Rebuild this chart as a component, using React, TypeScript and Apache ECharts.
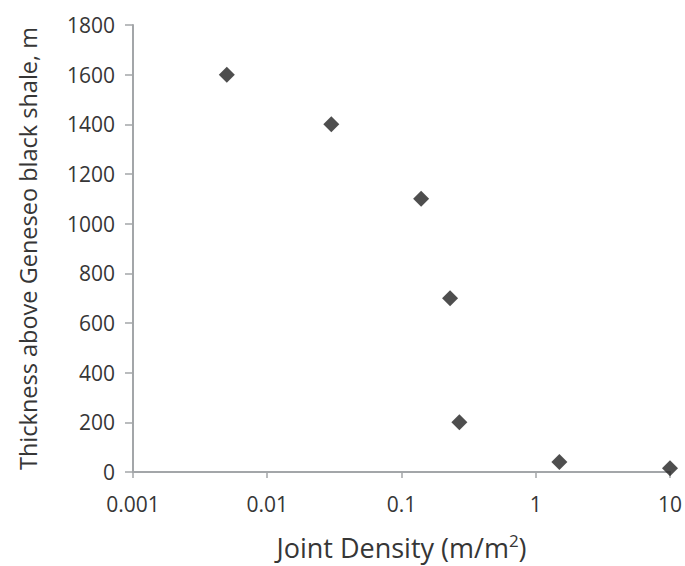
import React, { useEffect, useRef } from "react";
import * as echarts from "echarts";

const jointDensity = [0.005, 0.03, 0.14, 0.23, 0.27, 1.5, 10];
const thickness = [1600, 1400, 1100, 700, 200, 40, 15];
const xTicks = [0.001, 0.01, 0.1, 1, 10];
const xTitle = "Joint Density (m/m{sup|2})";
const yTitle = "Thickness above Geneseo black shale, m";

export default function App() {
  const ref = useRef<HTMLDivElement>(null);
  useEffect(() => {
    if (!ref.current) return;
    const chart = echarts.init(ref.current, null, { renderer: "svg" });
    const font = "'Open Sans', sans-serif";
    const axisColor = "#a3a6a9";
    const textColor = "#363636";
    chart.setOption({
      animation: false,
      backgroundColor: "#ffffff",
      grid: { left: 133, right: 15, top: 25, bottom: 94, containLabel: false },
      xAxis: {
        type: "log",
        logBase: 10,
        min: xTicks[0],
        max: xTicks[xTicks.length - 1],
        name: xTitle,
        nameLocation: "middle",
        nameGap: 60,
        nameTextStyle: {
          fontFamily: font,
          fontSize: 27,
          color: textColor,
          rich: { sup: { fontFamily: font, fontSize: 17, color: textColor, verticalAlign: "top", padding: [0, 0, 13, 0] } },
        },
        axisLine: { lineStyle: { color: axisColor, width: 2 } },
        axisTick: { show: true, length: 6, lineStyle: { color: axisColor, width: 1.5 } },
        minorTick: { show: false },
        splitLine: { show: false },
        axisLabel: {
          fontFamily: font,
          fontSize: 21,
          color: textColor,
          margin: 21,
          alignMaxLabel: "center",
          formatter: (v: number) => String(Number(v.toPrecision(1))),
        },
      },
      yAxis: {
        type: "value",
        min: 0,
        max: 1800,
        interval: 200,
        name: yTitle,
        nameLocation: "middle",
        nameGap: 93,
        nameTextStyle: { fontFamily: font, fontSize: 23.5, color: textColor },
        axisLine: { show: true, lineStyle: { color: axisColor, width: 2 } },
        axisTick: { show: true, length: 8, lineStyle: { color: axisColor, width: 1.5 } },
        splitLine: { show: false },
        axisLabel: {
          fontFamily: font,
          fontSize: 21,
          color: textColor,
          margin: 18,
          formatter: (v: number) => String(v),
        },
      },
      series: [
        {
          type: "scatter",
          data: jointDensity.map((x, i) => [x, thickness[i]]),
          symbol: "diamond",
          symbolSize: 16,
          itemStyle: { color: "#222" },
        },
      ],
    });
    return () => chart.dispose();
  }, []);
  return <div ref={ref} style={{ position: "fixed", left: 0, top: 0, width: 685, height: 566 }} />;
}
